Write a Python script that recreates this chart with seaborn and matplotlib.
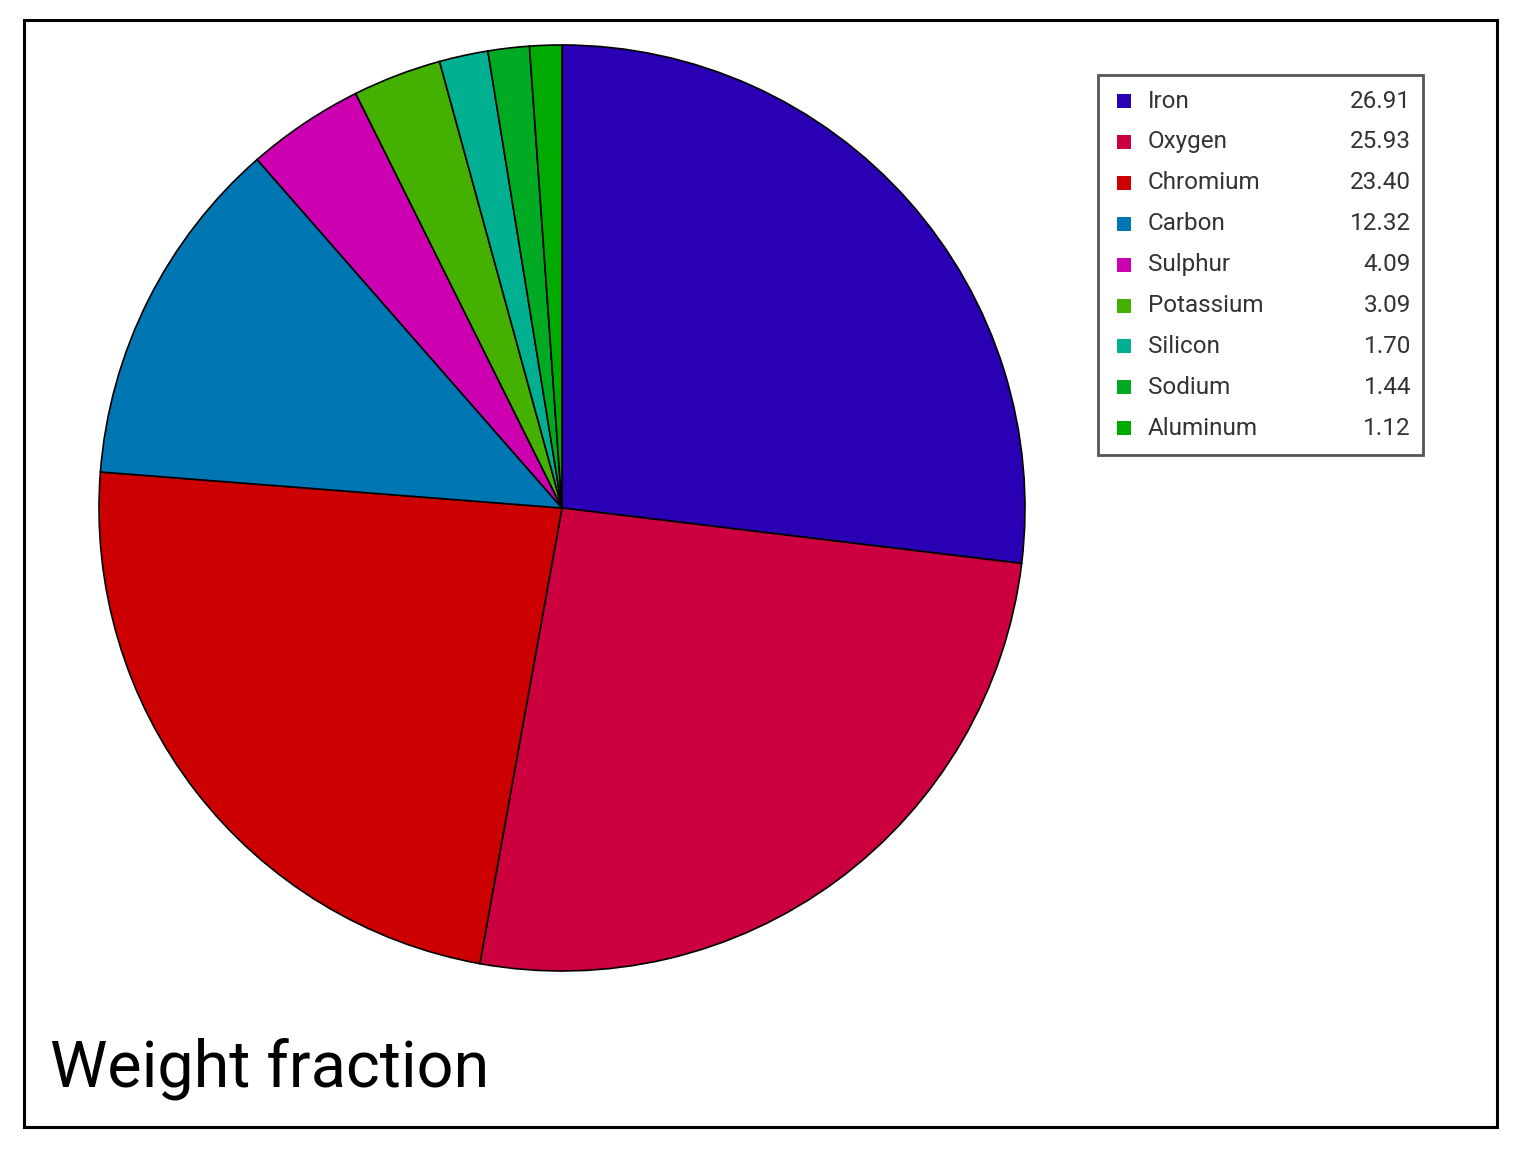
import matplotlib
matplotlib.use('Agg')
import matplotlib.pyplot as plt
from matplotlib.patches import Rectangle
import seaborn as sns

elements = ['Iron', 'Oxygen', 'Chromium', 'Carbon', 'Sulphur',
            'Potassium', 'Silicon', 'Sodium', 'Aluminum']
fractions = [26.91, 25.93, 23.40, 12.32, 4.09, 3.09, 1.70, 1.44, 1.12]
colors = ['#2a00b5', '#cc003f', '#cc0000', '#0077b3', '#cc00b0',
          '#44b000', '#00b090', '#00aa22', '#00aa00']

sns.set_theme(style='white')
plt.rcParams['font.family'] = ['Roboto', 'DejaVu Sans']

W, H = 1514, 1154
fig = plt.figure(figsize=(W / 100, H / 100), dpi=100)
ax = fig.add_axes([0, 0, 1, 1])

# outer frame
ax.add_patch(Rectangle((24, H - 1127), 1473, 1107, fill=False,
                       edgecolor='black', linewidth=2.2))

ax.pie(fractions, colors=colors, startangle=90, counterclock=False,
       center=(562, H - 508), radius=463, frame=True,
       wedgeprops=dict(edgecolor='black', linewidth=1.2))
ax.set_xlim(0, W)
ax.set_ylim(0, H)
ax.set_aspect('equal')
ax.axis('off')

# legend box
ax.add_patch(Rectangle((1098, H - 455), 325, 380, fill=False,
                       edgecolor='#555555', linewidth=2))
for i, (name, val, c) in enumerate(zip(elements, fractions, colors)):
    y = H - (101 + i * 40.9)
    ax.add_patch(Rectangle((1117, y - 7), 14, 14, facecolor=c, edgecolor='none'))
    ax.text(1148, y, name, fontsize=17.5, color='#333333', va='center', ha='left')
    ax.text(1411, y, f'{val:.2f}', fontsize=17.5, color='#333333', va='center', ha='right')

ax.text(50, H - 1087, 'Weight fraction', fontsize=46.5, color='black',
        ha='left', va='baseline')

fig.savefig('out.png', dpi=100)
plt.close(fig)
